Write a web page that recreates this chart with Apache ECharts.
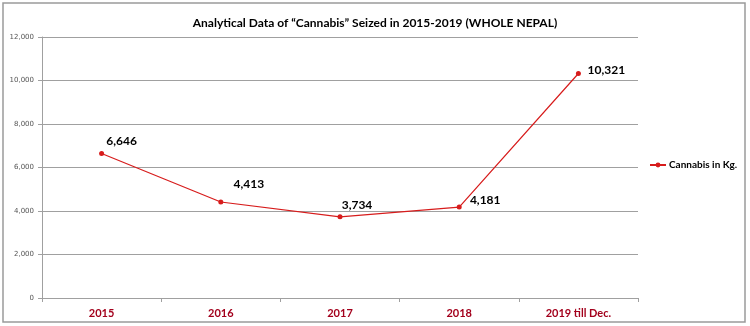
<!DOCTYPE html>
<html><head><meta charset="utf-8">
<script src="https://cdn.jsdelivr.net/npm/echarts@6/dist/echarts.min.js"></script>
<style>html,body{margin:0;padding:0;background:#fff}#c{width:750px;height:326px}</style>
</head><body><div id="c"></div>
<script>
const categories = ['2015', '2016', '2017', '2018', '2019 till Dec.'];
const cannabisKg = [6646, 4413, 3734, 4181, 10321];
const yTicks = [0, 2000, 4000, 6000, 8000, 10000, 12000];
const seriesName = 'Cannabis in Kg.';
const titleText = 'Analytical Data of \u201cCannabis\u201d Seized in 2015-2019 (WHOLE NEPAL)';

const labelOffsets = [[20, -12], [28, -18], [17, -12], [26, -7], [28, -3]];
const chart = echarts.init(document.getElementById('c'));
chart.setOption({
  animation: false,
  graphic: [{type: 'rect', shape: {x: 3, y: 3, width: 742, height: 319}, style: {fill: 'none', stroke: '#9a9a9a', lineWidth: 1.5}, z: 0}],
  title: {text: titleText, left: 'center', top: 12, textStyle: {fontFamily: 'Lato', fontWeight: 'bold', fontSize: 12, color: '#000'}},
  legend: {orient: 'vertical', left: 644, top: 155, itemWidth: 16, itemHeight: 6, itemGap: 4,
    textStyle: {fontFamily: 'Lato', fontWeight: 'bold', fontSize: 10, color: '#000', padding: [0, 0, 0, -2]},
    data: [{name: seriesName}]},
  grid: {left: 42, right: 112, top: 37, bottom: 28, containLabel: false},
  xAxis: {type: 'category', data: categories, boundaryGap: true,
    axisLine: {lineStyle: {color: '#a0a0a0'}}, axisTick: {show: true, length: 4, lineStyle: {color: '#a0a0a0'}},
    axisLabel: {color: '#a3001c', fontFamily: 'Lato', fontWeight: 'bold', fontSize: 11, margin: 10}},
  yAxis: {type: 'value', min: 0, max: 12000, interval: 2000,
    axisLine: {show: true, lineStyle: {color: '#a0a0a0'}}, axisTick: {show: true, length: 4, lineStyle: {color: '#a0a0a0'}},
    splitLine: {lineStyle: {color: '#a0a0a0'}},
    axisLabel: {color: '#555', fontFamily: 'DejaVu Sans', fontSize: 7, margin: 8,
      formatter: v => yTicks.includes(v) ? v.toLocaleString('en-US') : ''}},
  series: [{name: seriesName, type: 'line', symbol: 'circle', symbolSize: 5,
    itemStyle: {color: '#d71c1c'}, lineStyle: {color: '#d71c1c', width: 1.2},
    data: cannabisKg.map((v, i) => ({value: v, label: {offset: labelOffsets[i]}})),
    label: {show: true, position: 'inside', fontFamily: 'Lato', fontWeight: 'bold', fontSize: 12, color: '#000',
      formatter: p => p.value.toLocaleString('en-US')}}]
});
</script></body></html>
